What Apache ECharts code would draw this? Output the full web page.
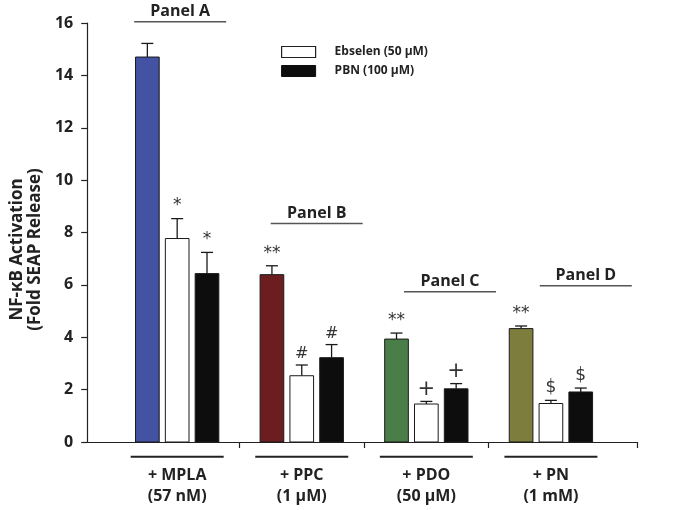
<!DOCTYPE html>
<html>
<head>
<meta charset="utf-8">
<script src="https://cdn.jsdelivr.net/npm/echarts@6/dist/echarts.min.js"></script>
<style>html,body{margin:0;padding:0;background:#fff;}#c{width:685px;height:510px;}</style>
</head>
<body>
<div id="c"></div>
<script>
// ---- data ----
const groupNames = ['+ MPLA', '+ PPC', '+ PDO', '+ PN'];
const groupDoses = ['(57 nM)', '(1 µM)', '(50 µM)', '(1 mM)'];
const panelNames = ['Panel A', 'Panel B', 'Panel C', 'Panel D'];
const agonistValues = [14.70, 6.39, 3.93, 4.33];
const agonistErrors = [0.52, 0.34, 0.23, 0.10];
const agonistMarks = ['', '**', '**', '**'];
const ebselenValues = [7.77, 2.53, 1.45, 1.47];
const ebselenErrors = [0.76, 0.41, 0.10, 0.12];
const ebselenMarks = ['*', '#', '+', '$'];
const pbnValues = [6.43, 3.22, 2.03, 1.91];
const pbnErrors = [0.81, 0.50, 0.20, 0.15];
const pbnMarks = ['*', '#', '+', '$'];
const yMin = 0, yMax = 16, yStep = 2;

// ---- layout / style ----
const FONT = '"Open Sans", "Noto Sans", sans-serif';
const agonistColors = ['#4352A3', '#6C1D20', '#4A7E48', '#7D7D3D'];
const BAR_OFFSET = 0.2394;   // spacing between bars inside a group (axis units)
const BAR_W = 0.19;          // bar width (axis units)
const panelLayout = [        // panel title anchor: [x shift from group centre, y value of rule]
  [0.024, 16.05], [0.12, 8.34], [0.19, 5.74], [0.28, 5.97]
];
const markStyle = {
  '*': {size: 17, gap: 13}, '**': {size: 17, gap: 12},
  '#': {size: 16, gap: 11}, '+': {size: 21, gap: 12}, '$': {size: 17, gap: 12.5}
};

function toRows(vals, errs) {
  return vals.map((v, i) => [i, v, errs[i]]);
}

function barRenderer(offset, colorFn, marks) {
  return function (params, api) {
    const i = params.dataIndex;
    const x = api.value(0) + offset;
    const v = api.value(1), e = api.value(2);
    const mark = marks[i];
    const base = api.coord([x, 0]);
    const top = api.coord([x, v]);
    const errTop = api.coord([x, v + e]);
    const w = api.size([BAR_W, 0])[0];
    const lw = 1.3;
    const children = [
      {type: 'rect', shape: {x: top[0] - lw / 2, y: errTop[1], width: lw, height: top[1] - errTop[1]},
       style: {fill: '#1a1a1a'}},
      {type: 'rect', shape: {x: errTop[0] - 6, y: errTop[1] - lw / 2, width: 12, height: lw},
       style: {fill: '#1a1a1a'}},
      {type: 'rect', shape: {x: top[0] - w / 2, y: top[1], width: w, height: base[1] - top[1]},
       style: {fill: colorFn(i), stroke: '#1a1a1a', lineWidth: 1}}
    ];
    if (mark) {
      const ms = markStyle[mark] || {size: 17, gap: 15};
      children.push({type: 'text', x: errTop[0], y: errTop[1] - ms.gap,
        style: {text: mark, fill: '#333', font: 'normal ' + ms.size + 'px "DejaVu Sans", sans-serif',
                align: 'center', verticalAlign: 'middle'}});
    }
    return {type: 'group', children: children};
  };
}

function panelRenderer(params, api) {
  const i = params.dataIndex;
  const lay = panelLayout[i];
  const c = api.coord([api.value(0) + lay[0], lay[1]]);
  return {type: 'group', children: [
    {type: 'rect', shape: {x: c[0] - 46, y: c[1] - 0.75, width: 92, height: 1.5},
     style: {fill: '#555'}},
    {type: 'text', x: c[0], y: c[1] - 10,
     style: {text: panelNames[i], fill: '#222', font: 'bold 16px ' + FONT,
             align: 'center', verticalAlign: 'middle'}}
  ]};
}

const chart = echarts.init(document.getElementById('c'), null, {renderer: 'canvas'});
const option = {
  backgroundColor: '#fff',
  animation: false,
  grid: {left: 84, right: 48, top: 23, bottom: 68, containLabel: false},
  legend: {
    orient: 'vertical', left: 281, top: 45, padding: 0, itemWidth: 34, itemHeight: 11, itemGap: 5,
    selectedMode: false,
    textStyle: {fontFamily: FONT, fontWeight: 'bold', fontSize: 12, color: '#222', padding: [0, 0, 0, 14], lineHeight: 14},
    data: [
      {name: 'Ebselen (50 µM)', icon: 'rect', itemStyle: {color: '#fff', borderColor: '#222', borderWidth: 1.2}},
      {name: 'PBN (100 µM)', icon: 'rect', itemStyle: {color: '#0d0d0d', borderColor: '#0d0d0d', borderWidth: 1}}
    ]
  },
  xAxis: {
    type: 'value', min: -0.7223, max: 3.691,
    splitLine: {show: false},
    axisLine: {onZero: false, lineStyle: {color: '#222', width: 1.2}},
    axisTick: {show: true, length: 6, lineStyle: {color: '#222', width: 1.2}, customValues: [0.5, 1.5, 2.5, 3.691]},
    axisLabel: {
      show: true, margin: 7, customValues: [0, 1, 2, 3],
      formatter: function (v) {
        const i = Math.round(v);
        return '{ln|}\n{t|' + groupNames[i] + '}\n{t|' + groupDoses[i] + '}';
      },
      rich: {
        ln: {width: 93, height: 2, lineHeight: 15.6, backgroundColor: '#222'},
        t: {fontFamily: FONT, fontWeight: 'bold', fontSize: 16, lineHeight: 21, color: '#222'}
      }
    }
  },
  yAxis: {
    type: 'value', min: yMin, max: yMax, interval: yStep,
    splitLine: {show: false},
    axisLine: {show: true, onZero: false, lineStyle: {color: '#222', width: 1.2}},
    axisTick: {show: true, length: 6, lineStyle: {color: '#222', width: 1.2}},
    axisLabel: {margin: 14, fontFamily: FONT, fontWeight: 'bold', fontSize: 16, color: '#222'},
    name: 'NF-κB Activation\n(Fold SEAP Release)',
    nameLocation: 'middle', nameGap: 29, nameRotate: 90,
    nameTextStyle: {fontFamily: FONT, fontWeight: 'bold', fontSize: 17, lineHeight: 18, color: '#222',
                    align: 'center', padding: [0, 34, 0, 0]}
  },
  series: [
    {name: 'Agonist', type: 'custom', renderItem: barRenderer(-BAR_OFFSET, i => agonistColors[i], agonistMarks),
     encode: {x: 0, y: 1}, data: toRows(agonistValues, agonistErrors), clip: false},
    {name: 'Ebselen (50 µM)', type: 'custom', renderItem: barRenderer(0, () => '#fff', ebselenMarks),
     itemStyle: {color: '#fff'},
     encode: {x: 0, y: 1}, data: toRows(ebselenValues, ebselenErrors), clip: false},
    {name: 'PBN (100 µM)', type: 'custom', renderItem: barRenderer(BAR_OFFSET, () => '#0d0d0d', pbnMarks),
     itemStyle: {color: '#0d0d0d'},
     encode: {x: 0, y: 1}, data: toRows(pbnValues, pbnErrors), clip: false},
    {name: 'Panels', type: 'custom', renderItem: panelRenderer, silent: true,
     encode: {x: 0, y: 1}, data: panelNames.map((n, i) => [i, 1]), clip: false}
  ]
};
chart.setOption(option);
</script>
</body>
</html>
